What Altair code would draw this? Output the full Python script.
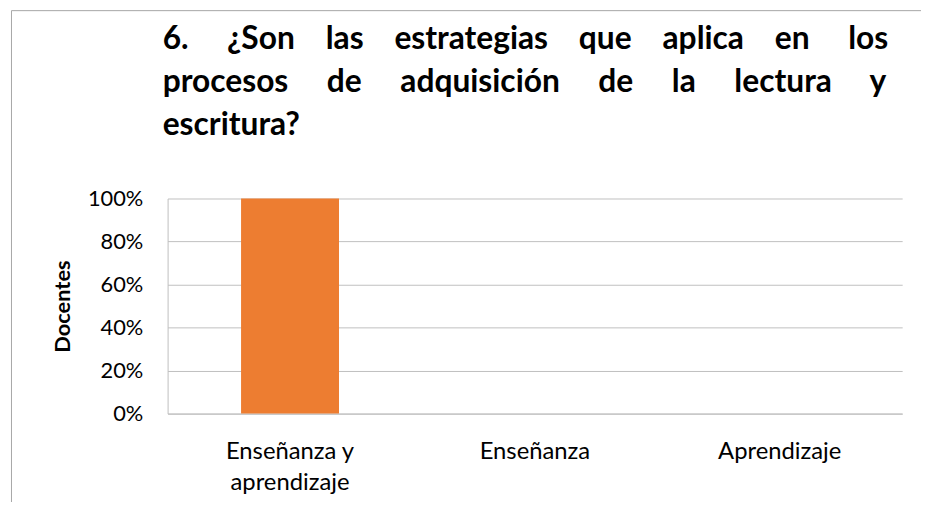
import altair as alt
import pandas as pd

categories = ["Enseñanza y aprendizaje", "Enseñanza", "Aprendizaje"]
values = [1.0, 0.0, 0.0]
y_ticks = [0, 0.2, 0.4, 0.6, 0.8, 1.0]
NB = "\u00a0"
title_lines = [
    ["6.", "¿Son", "las", "estrategias", "que", "aplica", "en", "los"],
    ["procesos", "de", "adquisición", "de", "la", "lectura", "y"],
    ["escritura?"],
]
title_gaps = [
    [5, 4, 4, 4, 4, 4, 5],
    [5, 5, 5, 5, 5, 5],
    [],
]


def justify(words, gaps):
    out = words[0]
    for w, g in zip(words[1:], gaps):
        out += NB * g + w
    return out


title_text = [justify(w, g) for w, g in zip(title_lines, title_gaps)]

df = pd.DataFrame({"cat": categories, "val": values})
one = pd.DataFrame({"k": [0]})

FONT = "Lato"
W, H = 741, 217

bars = alt.Chart(df).mark_bar(color="#ED7D31").encode(
    x=alt.X(
        "cat:N",
        sort=categories,
        scale=alt.Scale(paddingInner=0.6, paddingOuter=0.3),
        axis=alt.Axis(
            title=None,
            labelAngle=0,
            labelFontSize=24,
            labelFont=FONT,
            labelColor="#000000",
            labelPadding=26,
            labelLineHeight=32,
            ticks=False,
            domainColor="#BFBFBF",
            labelExpr="datum.value == 'Enseñanza y aprendizaje' ? ['Enseñanza y', 'aprendizaje'] : datum.value",
        ),
    ),
    y=alt.Y(
        "val:Q",
        scale=alt.Scale(domain=[0, 1]),
        axis=alt.Axis(
            title="Docentes",
            titleFont=FONT,
            titleFontSize=22,
            titleFontWeight="bold",
            titleColor="#000000",
            titlePadding=13,
            values=y_ticks,
            format="%",
            labelFontSize=22,
            labelFont=FONT,
            labelColor="#000000",
            labelPadding=25,
            ticks=False,
            gridColor="#BFBFBF",
            domainColor="#BFBFBF",
        ),
    ),
)

border = alt.Chart(one).mark_rect(fill="transparent", stroke="#A6A6A6", strokeWidth=1).encode(
    x=alt.value(-157.5), x2=alt.value(W + 60), y=alt.value(-189.5), y2=alt.value(H + 120)
)

title = alt.Chart(one).mark_text(
    align="left",
    baseline="alphabetic",
    font=FONT,
    fontSize=32,
    fontWeight="bold",
    color="#000000",
    lineHeight=43.5,
).encode(x=alt.value(-5), y=alt.value(-151), text=alt.value(title_text))

chart = alt.layer(border, title, bars).properties(
    width=W,
    height=H,
    autosize=alt.AutoSizeParams(type="none"),
    padding={"left": 161, "top": 190, "right": 19, "bottom": 87},
).configure_view(stroke=None)

chart.save("out.html", embed_options={"renderer": "svg", "actions": False})
